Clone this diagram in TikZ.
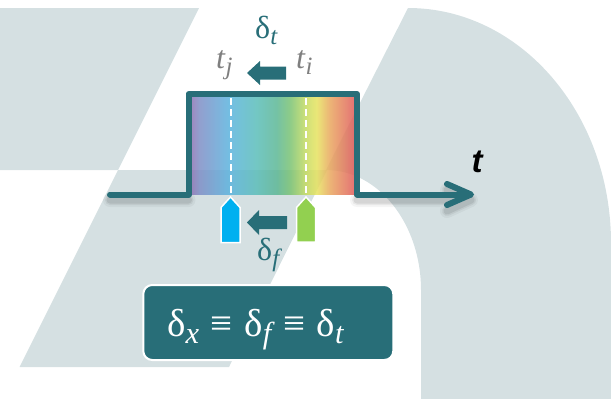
\documentclass[tikz,border=0pt]{standalone}
\usepackage{fontspec}
\setmainfont{Liberation Serif}
\newfontfamily\arialf{Liberation Sans}
\newcommand{\lsub}[1]{\raisebox{-0.2em}{\scalebox{0.78}{\itshape #1}}}
\newcommand{\eqv}{\hspace{0.3em}≡\hspace{0.3em}}
\definecolor{tealc}{HTML}{286E78}
\definecolor{bgc}{HTML}{D5E0E2}
\definecolor{grayc}{HTML}{7F7F7F}
\definecolor{bluec}{HTML}{00B0F0}
\definecolor{greenc}{HTML}{92D050}
\definecolor{spa}{HTML}{8E74B4}
\definecolor{spb}{HTML}{7F8EC6}
\definecolor{spc}{HTML}{5BB3DE}
\definecolor{spd}{HTML}{5BBDB9}
\definecolor{spe}{HTML}{5CB795}
\definecolor{spf}{HTML}{78C274}
\definecolor{spg}{HTML}{C8DC60}
\definecolor{sph}{HTML}{E6E35F}
\definecolor{spi}{HTML}{E9A65E}
\definecolor{spj}{HTML}{E05C5C}
\pgfdeclarehorizontalshading{spectrum}{100bp}{color(0bp)=(spa); color(25bp)=(spa);
 color(27.5bp)=(spb); color(36.7bp)=(spc); color(45bp)=(spd); color(51.2bp)=(spe);
 color(55.2bp)=(spf); color(60.4bp)=(spg); color(63.5bp)=(sph); color(67.6bp)=(spi);
 color(75bp)=(spj); color(100bp)=(spj)}
\tikzset{
  sig/.style={draw=tealc, line width=6pt, line cap=round, line join=round},
  sigshadow/.style={draw=black, line cap=round, line join=round},
  marker/.style={draw=white, line width=1.5pt, line join=miter},
  blockarrow/.style={fill=tealc},
  lbl/.style={inner sep=0pt, anchor=base west, font=\fontsize{32}{34}\selectfont},
}
\begin{document}
\begin{tikzpicture}[x=1pt, y=-1pt]
\useasboundingbox (0,0) rectangle (611,399);
\begin{scope}
\clip (0,0) rectangle (611,399);
% background shapes
\fill[bgc] (-5,8) -- (199,8) -- (118,170) -- (-5,170) -- cycle;
\fill[bgc] (118,170) -- (327,170) -- (229,367) -- (19.5,367) -- cycle;
\fill[bgc] (408,8) .. controls (520,8) and (611,113) .. (611,243) -- (620,243) -- (620,410)
  -- (421,410) -- (421,290) .. controls (421,224) and (378.5,170) .. (326,170) -- cycle;
\end{scope}
% shadow of the signal
\foreach \w/\o in {14/0.04, 10/0.06, 7/0.08}{
  \draw[sigshadow, line width=\w pt, opacity=\o] (110,200) -- (188.5,200) (357,200) -- (470,200)
    (447,190) -- (471,200) -- (447,211);
}
% spectrum
\begin{scope}[transparency group, opacity=0.85]
\path[shading=spectrum] (191,97) rectangle (354,194.5);
\end{scope}
% signal
\draw[sig] (110,194.5) -- (188.5,194.5) -- (188.5,94) -- (357,94) -- (357,194.5) -- (470,194.5);
\draw[sig] (447,184) -- (471,194.5) -- (447,205);
% dashed lines
\draw[white, line width=2pt, dash pattern=on 7pt off 4pt] (230.5,98) -- (230.5,196);
\draw[white, line width=2pt, dash pattern=on 7pt off 4pt] (306,98) -- (306,196);
% markers
\draw[marker, fill=bluec] (230.5,197) -- (240,207.5) -- (240,242.5) -- (221,242.5) -- (221,207.5) -- cycle;
\draw[marker, fill=greenc] (306,197) -- (315.5,207.5) -- (315.5,242) -- (296.5,242) -- (296.5,207.5) -- cycle;
% block arrows
\fill[blockarrow] (247,222.5) -- (259,210) -- (259,216) -- (287,216) -- (287,229) -- (259,229) -- (259,235) -- cycle;
\fill[blockarrow] (247,73) -- (260,61) -- (260,66.5) -- (286,66.5) -- (286,79.5) -- (260,79.5) -- (260,85) -- cycle;
% labels
\node[lbl, text=tealc] (dt) at (255,38) {δ\lsub{t}};
\node[lbl, text=grayc] (tj) at (216,68) {\textit{t}\lsub{j}};
\node[lbl, text=grayc] (ti) at (296,68) {\textit{t}\lsub{i}};
\node[lbl, text=tealc] (df) at (257,260) {δ\lsub{f}};
\node[inner sep=0pt, font=\fontsize{33}{35}\arialf\bfseries\itshape] (tlab) at (477,162) {t};
% equivalence box
\node[draw=white, line width=2pt, fill=tealc, rounded corners=9pt, minimum width=250pt, minimum height=75pt, inner sep=0pt] (eqbox) at (268.3,322.5) {};
\node[inner sep=0pt, anchor=base west, text=white, font=\fontsize{39}{41}\selectfont] (eq) at (167,336) {δ\lsub{x}\eqv δ\lsub{f}\eqv δ\lsub{t}};
\end{tikzpicture}
\end{document}
